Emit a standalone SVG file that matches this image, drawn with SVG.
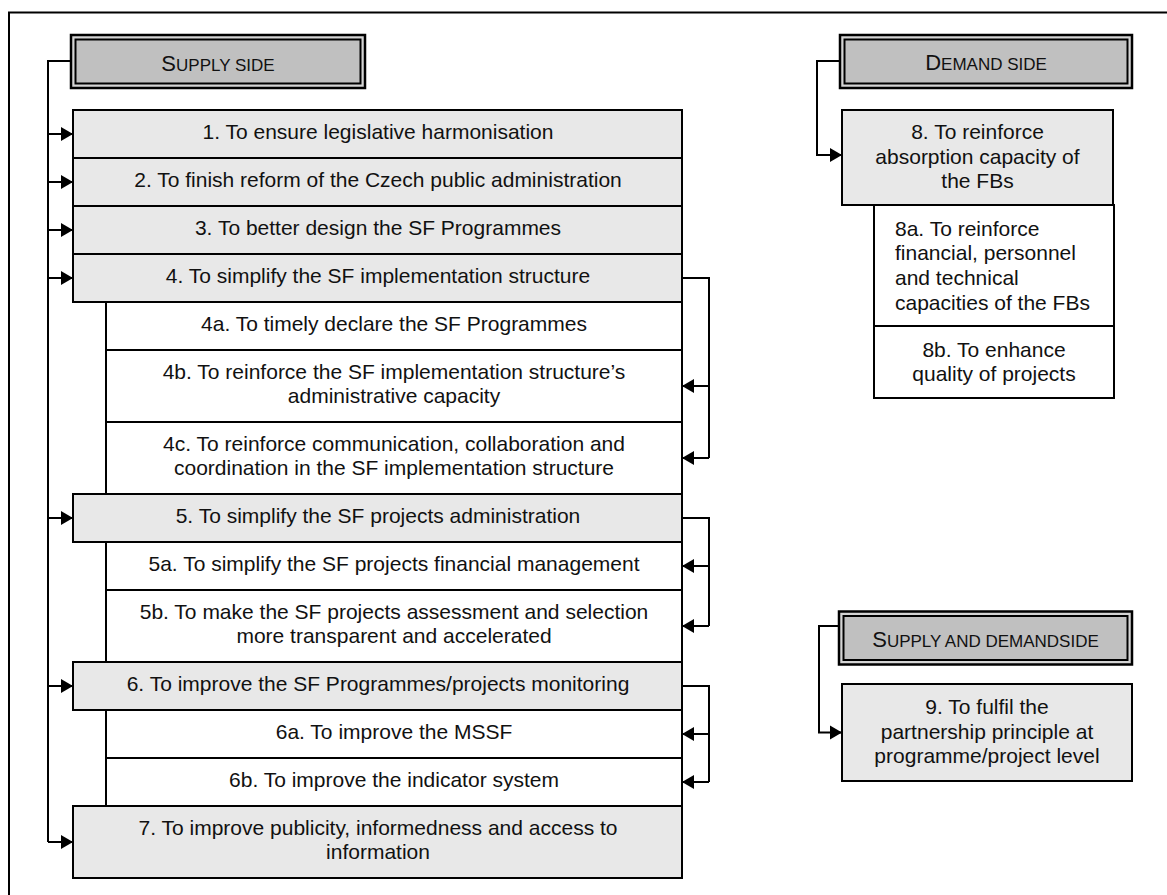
<svg xmlns="http://www.w3.org/2000/svg" width="1167" height="895" viewBox="0 0 1167 895">
  <style>
    text { font-family: "Liberation Sans", Arial, sans-serif; font-size: 21px; fill: #111; }
    .c { text-anchor: middle; }
    .hd { font-size: 22px; }
    .sc { font-size: 17px; }
    .main { fill: #e8e8e8; stroke: #000; stroke-width: 2; }
    .sub { fill: #fff; stroke: #000; stroke-width: 2; }
    .hout { fill: #d4d4d4; stroke: #000; stroke-width: 2.5; }
    .hin { fill: #c0c0c0; stroke: #000; stroke-width: 2; }
    .ln { fill: none; stroke: #000; stroke-width: 2; }
  </style>
  <defs>
    <marker id="arr" markerUnits="userSpaceOnUse" markerWidth="13" markerHeight="15" viewBox="0 0 13 15" refX="12" refY="7.5" orient="auto">
      <path d="M0,0.5 L12,7.5 L0,14.5 Z" fill="#000"/>
    </marker>
  </defs>

  <rect width="1167" height="895" fill="#fff"/>
  <!-- outer frame -->
  <path d="M9,895 V12.5 H1167" class="ln"/>

  <!-- headers -->
  <g id="hdr-supply">
    <rect x="71" y="35" width="294" height="53" class="hout"/>
    <rect x="75.5" y="39.5" width="285" height="44" class="hin"/>
    <text x="218" y="70.5" class="c hd">S<tspan class="sc">UPPLY SIDE</tspan></text>
  </g>
  <g id="hdr-demand">
    <rect x="840" y="35" width="292" height="53" class="hout"/>
    <rect x="844.5" y="39.5" width="283" height="44" class="hin"/>
    <text x="986" y="70" class="c hd">D<tspan class="sc">EMAND SIDE</tspan></text>
  </g>
  <g id="hdr-both">
    <rect x="839" y="611.5" width="293" height="53" class="hout"/>
    <rect x="843.5" y="616" width="284" height="44" class="hin"/>
    <text x="985.5" y="647" class="c hd">S<tspan class="sc">UPPLY AND DEMANDSIDE</tspan></text>
  </g>

  <!-- supply side objectives -->
  <g id="n1"><rect x="73" y="110" width="609" height="48" class="main"/>
    <text x="378" y="139" class="c">1. To ensure legislative harmonisation</text></g>
  <g id="n2"><rect x="73" y="158" width="609" height="48" class="main"/>
    <text x="378" y="187" class="c">2. To finish reform of the Czech public administration</text></g>
  <g id="n3"><rect x="73" y="206" width="609" height="48" class="main"/>
    <text x="378" y="235" class="c">3. To better design the SF Programmes</text></g>
  <g id="n4"><rect x="73" y="254" width="609" height="48" class="main"/>
    <text x="378" y="283" class="c">4. To simplify the SF implementation structure</text></g>
  <g id="n4a"><rect x="106" y="302" width="576" height="48" class="sub"/>
    <text x="394" y="331" class="c">4a. To timely declare the SF Programmes</text></g>
  <g id="n4b"><rect x="106" y="350" width="576" height="72" class="sub"/>
    <text x="394" y="379" class="c">4b. To reinforce the SF implementation structure’s</text>
    <text x="394" y="403" class="c">administrative capacity</text></g>
  <g id="n4c"><rect x="106" y="422" width="576" height="72" class="sub"/>
    <text x="394" y="451" class="c">4c. To reinforce communication, collaboration and</text>
    <text x="394" y="475" class="c">coordination in the SF implementation structure</text></g>
  <g id="n5"><rect x="73" y="494" width="609" height="48" class="main"/>
    <text x="378" y="523" class="c">5. To simplify the SF projects administration</text></g>
  <g id="n5a"><rect x="106" y="542" width="576" height="48" class="sub"/>
    <text x="394" y="571" class="c">5a. To simplify the SF projects financial management</text></g>
  <g id="n5b"><rect x="106" y="590" width="576" height="72" class="sub"/>
    <text x="394" y="619" class="c">5b. To make the SF projects assessment and selection</text>
    <text x="394" y="643" class="c">more transparent and accelerated</text></g>
  <g id="n6"><rect x="73" y="662" width="609" height="48" class="main"/>
    <text x="378" y="691" class="c">6. To improve the SF Programmes/projects monitoring</text></g>
  <g id="n6a"><rect x="106" y="710" width="576" height="48" class="sub"/>
    <text x="394" y="739" class="c">6a. To improve the MSSF</text></g>
  <g id="n6b"><rect x="106" y="758" width="576" height="48" class="sub"/>
    <text x="394" y="787" class="c">6b. To improve the indicator system</text></g>
  <g id="n7"><rect x="73" y="806" width="609" height="72" class="main"/>
    <text x="378" y="835" class="c">7. To improve publicity, informedness and access to</text>
    <text x="378" y="859" class="c">information</text></g>

  <!-- demand side objectives -->
  <g id="n8"><rect x="842" y="110" width="271" height="95" class="main"/>
    <text x="977.5" y="139" class="c">8. To reinforce</text>
    <text x="977.5" y="163.5" class="c">absorption capacity of</text>
    <text x="977.5" y="188" class="c">the FBs</text></g>
  <g id="n8a"><rect x="874" y="205" width="240" height="121" class="sub"/>
    <text x="895" y="235.5">8a. To reinforce</text>
    <text x="895" y="260.2">financial, personnel</text>
    <text x="895" y="284.9">and technical</text>
    <text x="895" y="309.6">capacities of the FBs</text></g>
  <g id="n8b"><rect x="874" y="326" width="240" height="72" class="sub"/>
    <text x="994" y="356.5" class="c">8b. To enhance</text>
    <text x="994" y="381" class="c">quality of projects</text></g>

  <!-- joint objective -->
  <g id="n9"><rect x="842" y="684" width="290" height="97" class="main"/>
    <text x="987" y="714" class="c">9. To fulfil the</text>
    <text x="987" y="738.5" class="c">partnership principle at</text>
    <text x="987" y="763" class="c">programme/project level</text></g>

  <!-- connectors -->
  <g id="connectors" class="ln">
    <path d="M71,61 H48 V842"/>
    <path d="M48,134 H73" marker-end="url(#arr)"/>
    <path d="M48,182 H73" marker-end="url(#arr)"/>
    <path d="M48,230 H73" marker-end="url(#arr)"/>
    <path d="M48,278 H73" marker-end="url(#arr)"/>
    <path d="M48,518 H73" marker-end="url(#arr)"/>
    <path d="M48,686 H73" marker-end="url(#arr)"/>
    <path d="M48,842 H73" marker-end="url(#arr)"/>

    <path d="M682,278 H709 V458"/>
    <path d="M709,386 H682" marker-end="url(#arr)"/>
    <path d="M709,458 H682" marker-end="url(#arr)"/>

    <path d="M682,518 H709 V626"/>
    <path d="M709,566 H682" marker-end="url(#arr)"/>
    <path d="M709,626 H682" marker-end="url(#arr)"/>

    <path d="M682,686 H709 V782"/>
    <path d="M709,734 H682" marker-end="url(#arr)"/>
    <path d="M709,782 H682" marker-end="url(#arr)"/>

    <path d="M840,61 H817 V155 H842" marker-end="url(#arr)"/>
    <path d="M839,626 H819 V732.5 H842" marker-end="url(#arr)"/>
  </g>
</svg>
